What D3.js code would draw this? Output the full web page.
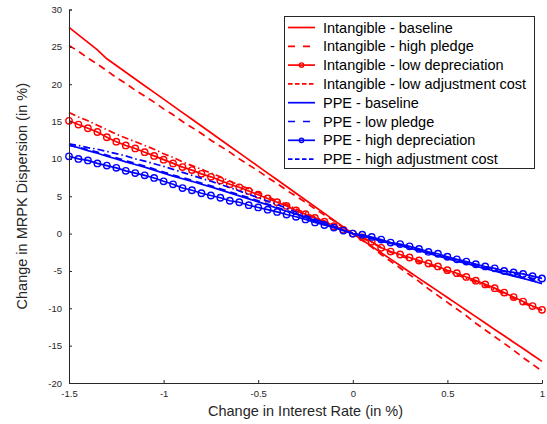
<!DOCTYPE html>
<html>
<head>
<meta charset="utf-8">
<script src="https://cdnjs.cloudflare.com/ajax/libs/d3/7.8.5/d3.min.js"></script>
<style>
    html, body { margin: 0; padding: 0; background: #fff; }
    svg { display: block; font-family: "Liberation Sans", Arial, Helvetica, sans-serif; }
</style>
</head>
<body>
<div id="chart"></div>
<script>
// change in interest rate (in %), one point every 0.05
var rates = [-1.5, -1.45, -1.4, -1.35, -1.3, -1.25, -1.2, -1.15, -1.1, -1.05,
    -1.0, -0.95, -0.9, -0.85, -0.8, -0.75, -0.7, -0.65, -0.6, -0.55,
    -0.5, -0.45, -0.4, -0.35, -0.3, -0.25, -0.2, -0.15, -0.1, -0.05,
    0, 0.05, 0.1, 0.15, 0.2, 0.25, 0.3, 0.35, 0.4, 0.45,
    0.5, 0.55, 0.6, 0.65, 0.7, 0.75, 0.8, 0.85, 0.9, 0.95, 1.0];

// change in MRPK dispersion (in %)
var intangibleBaseline = [27.6, 26.6, 25.6, 24.6, 23.4, 22.5, 21.6, 20.7, 19.8, 18.9,
    18.0, 17.1, 16.2, 15.3, 14.4, 13.5, 12.6, 11.7, 10.8, 9.9,
    9.0, 8.1, 7.2, 6.3, 5.4, 4.5, 3.6, 2.7, 1.8, 0.9,
    0, -0.86, -1.71, -2.57, -3.42, -4.28, -5.13, -5.99, -6.84, -7.7,
    -8.55, -9.41, -10.26, -11.12, -11.97, -12.83, -13.68, -14.54, -15.39, -16.25, -17.1];
var intangibleHighPledge = [25.2, 24.4, 23.5, 22.7, 21.8, 20.9, 20.1, 19.2, 18.4, 17.6,
    16.7, 15.9, 15.0, 14.2, 13.4, 12.5, 11.7, 10.9, 10.0, 9.2,
    8.4, 7.5, 6.7, 5.8, 5.0, 4.2, 3.3, 2.5, 1.7, 0.8,
    0, -0.9, -1.8, -2.8, -3.7, -4.6, -5.5, -6.4, -7.4, -8.3,
    -9.2, -10.1, -11.0, -12.0, -12.9, -13.8, -14.7, -15.6, -16.6, -17.5, -18.4];
var intangibleLowDep = [15.1, 14.6, 14.1, 13.6, 12.9, 12.3, 11.8, 11.4, 10.9, 10.4,
    9.9, 9.4, 8.9, 8.5, 8.0, 7.6, 7.1, 6.6, 6.2, 5.7,
    5.2, 4.7, 4.2, 3.7, 3.1, 2.6, 2.1, 1.6, 1.0, 0.5,
    0, -0.5, -1.1, -1.9, -2.4, -2.8, -3.2, -3.6, -4.0, -4.4,
    -4.9, -5.3, -5.8, -6.3, -6.8, -7.3, -7.9, -8.5, -9.1, -9.7, -10.2];
var intangibleLowAdj = [16.2, 15.6, 15.1, 14.5, 13.9, 13.3, 12.8, 12.3, 11.8, 11.3,
    10.7, 10.2, 9.6, 9.1, 8.6, 8.1, 7.6, 7.0, 6.5, 6.0,
    5.5, 4.9, 4.4, 3.9, 3.3, 2.8, 2.2, 1.7, 1.1, 0.5,
    0, -0.6, -1.2, -1.9, -2.5, -3.0, -3.4, -3.8, -4.2, -4.6,
    -5.1, -5.5, -6.0, -6.5, -7.0, -7.5, -8.1, -8.7, -9.3, -9.8, -10.3];
var ppeBaseline = [11.9, 11.5, 11.1, 10.75, 10.35, 10.0, 9.6, 9.25, 8.9, 8.5,
    8.1, 7.7, 7.35, 7.0, 6.6, 6.25, 5.85, 5.45, 5.05, 4.65,
    4.25, 3.85, 3.4, 3.0, 2.6, 2.15, 1.7, 1.3, 0.85, 0.45,
    0, -0.3, -0.65, -1.0, -1.3, -1.6, -1.95, -2.3, -2.65, -3.0,
    -3.35, -3.7, -4.0, -4.35, -4.7, -5.0, -5.35, -5.7, -6.0, -6.35, -6.7];
var ppeLowPledge = [11.8, 11.55, 11.25, 10.9, 10.5, 10.15, 9.75, 9.4, 9.05, 8.65,
    8.25, 7.85, 7.5, 7.15, 6.75, 6.4, 6.0, 5.6, 5.2, 4.8,
    4.4, 3.95, 3.5, 3.1, 2.65, 2.2, 1.75, 1.3, 0.9, 0.45,
    0, -0.3, -0.6, -0.95, -1.25, -1.55, -1.9, -2.25, -2.6, -2.95,
    -3.3, -3.6, -3.95, -4.3, -4.6, -4.95, -5.3, -5.6, -5.95, -6.3, -6.6];
var ppeHighDep = [10.35, 10.0, 9.8, 9.4, 9.1, 8.8, 8.4, 8.1, 7.8, 7.45,
    7.0, 6.6, 6.1, 5.8, 5.4, 5.1, 4.8, 4.4, 4.2, 3.8,
    3.5, 3.2, 2.9, 2.55, 2.25, 1.9, 1.5, 1.15, 0.8, 0.4,
    0, -0.15, -0.45, -0.8, -1.2, -1.4, -1.7, -2.05, -2.45, -2.7,
    -3.1, -3.45, -3.75, -4.1, -4.4, -4.65, -5.0, -5.2, -5.4, -5.7, -6.0];
var ppeHighAdj = [12.0, 11.8, 11.5, 11.3, 11.0, 10.7, 10.4, 10.0, 9.7, 9.35,
    9.0, 8.6, 8.2, 7.8, 7.4, 7.0, 6.6, 6.15, 5.7, 5.25,
    4.8, 4.35, 3.9, 3.4, 2.9, 2.4, 1.95, 1.45, 0.95, 0.5,
    0, -0.3, -0.6, -0.95, -1.25, -1.55, -1.85, -2.2, -2.5, -2.85,
    -3.15, -3.45, -3.8, -4.1, -4.45, -4.75, -5.05, -5.35, -5.7, -6.0, -6.3];

var seriesNames = ["Intangible - baseline", "Intangible - high pledge",
    "Intangible - low depreciation", "Intangible - low adjustment cost",
    "PPE - baseline", "PPE - low pledge", "PPE - high depreciation",
    "PPE - high adjustment cost"];
var xTicks = [-1.5, -1, -0.5, 0, 0.5, 1];
var yTicks = [-20, -15, -10, -5, 0, 5, 10, 15, 20, 25, 30];

(function() {
    'use strict';

    var width = 547, height = 424;
    var margin = {top: 9.5, right: 5, bottom: 41, left: 69};
    var plotW = width - margin.left - margin.right,
        plotH = height - margin.top - margin.bottom;

    var red = "#ff0000", blue = "#0000ff";
    // one style per series, same order as seriesNames
    var styles = [
        {values: intangibleBaseline, color: red, dash: null, marker: false},
        {values: intangibleHighPledge, color: red, dash: "7,5", marker: false},
        {values: intangibleLowDep, color: red, dash: null, marker: true},
        {values: intangibleLowAdj, color: red, dash: "7,3,1.5,3", marker: false},
        {values: ppeBaseline, color: blue, dash: null, marker: false},
        {values: ppeLowPledge, color: blue, dash: "7,5", marker: false},
        {values: ppeHighDep, color: blue, dash: null, marker: true},
        {values: ppeHighAdj, color: blue, dash: "7,3,1.5,3", marker: false}
    ];
    // legend samples are drawn shorter in the original
    var legendDash = [null, "7,8", null, "4.5,2.5", null, "7,8", null, "4.5,2.5"];

    var x = d3.scaleLinear().domain([-1.5, 1]).range([0, plotW]),
        y = d3.scaleLinear().domain([-20, 30]).range([plotH, 0]);

    var svg = d3.select("#chart").append("svg")
        .attr("width", width)
        .attr("height", height);

    var g = svg.append("g")
        .attr("transform", "translate(" + margin.left + "," + margin.top + ")");

    var line = d3.line()
        .x(function(d) { return x(d[0]); })
        .y(function(d) { return y(d[1]); });

    styles.forEach(function(s) {
        var pts = rates.map(function(r, i) { return [r, s.values[i]]; });
        g.append("path")
            .datum(pts)
            .attr("fill", "none")
            .attr("stroke", s.color)
            .attr("stroke-width", 1.7)
            .attr("stroke-dasharray", s.dash)
            .attr("d", line);
        if (s.marker) {
            g.append("g").selectAll("circle")
                .data(pts)
                .enter().append("circle")
                .attr("cx", function(d) { return x(d[0]); })
                .attr("cy", function(d) { return y(d[1]); })
                .attr("r", 3.2)
                .attr("fill", "none")
                .attr("stroke", s.color)
                .attr("stroke-width", 1.4);
        }
    });

    // axes, MATLAB style: ticks inside, no box
    var axisColor = "#262626";
    var xAxis = g.append("g")
        .attr("transform", "translate(0," + plotH + ")")
        .call(d3.axisBottom(x).tickValues(xTicks).tickSize(-3).tickPadding(7)
            .tickFormat(function(d) { return String(d); }));
    var yAxis = g.append("g")
        .call(d3.axisLeft(y).tickValues(yTicks).tickSize(-3).tickPadding(7)
            .tickFormat(function(d) { return String(d); }));

    [xAxis, yAxis].forEach(function(a) {
        a.select(".domain").attr("stroke", axisColor).attr("stroke-width", 1);
        a.selectAll(".tick line").attr("stroke", axisColor);
        a.selectAll(".tick text")
            .attr("fill", axisColor)
            .style("font-size", "9.5px")
            .style("font-family", "'Liberation Sans', Arial, sans-serif");
    });

    svg.append("text")
        .attr("x", margin.left + plotW / 2)
        .attr("y", 416)
        .attr("text-anchor", "middle")
        .attr("fill", axisColor)
        .style("font-size", "14.5px")
        .text("Change in Interest Rate (in %)");

    svg.append("text")
        .attr("transform", "translate(26.5," + (margin.top + plotH / 2) + ") rotate(-90)")
        .attr("text-anchor", "middle")
        .attr("fill", axisColor)
        .style("font-size", "14.5px")
        .text("Change in MRPK Dispersion (in %)");

    // legend
    var lx = 284.5, ly = 16.5, lw = 250, lh = 152, rowH = 18.8;
    var legend = svg.append("g");
    legend.append("rect")
        .attr("x", lx).attr("y", ly)
        .attr("width", lw).attr("height", lh)
        .attr("fill", "#fff")
        .attr("stroke", axisColor)
        .attr("stroke-width", 1);

    seriesNames.forEach(function(name, i) {
        var s = styles[i];
        var cy = 27.5 + i * rowH;
        legend.append("line")
            .attr("x1", 288).attr("x2", 315)
            .attr("y1", cy).attr("y2", cy)
            .attr("stroke", s.color)
            .attr("stroke-width", 1.7)
            .attr("stroke-dasharray", legendDash[i]);
        if (s.marker) {
            legend.append("circle")
                .attr("cx", 301.5).attr("cy", cy).attr("r", 2.2)
                .attr("fill", "none")
                .attr("stroke", s.color)
                .attr("stroke-width", 1.4);
        }
        legend.append("text")
            .attr("x", 323)
            .attr("y", cy + 5)
            .attr("fill", "#000")
            .style("font-size", "14.5px")
            .text(name);
    });
})();
</script>
</body>
</html>
